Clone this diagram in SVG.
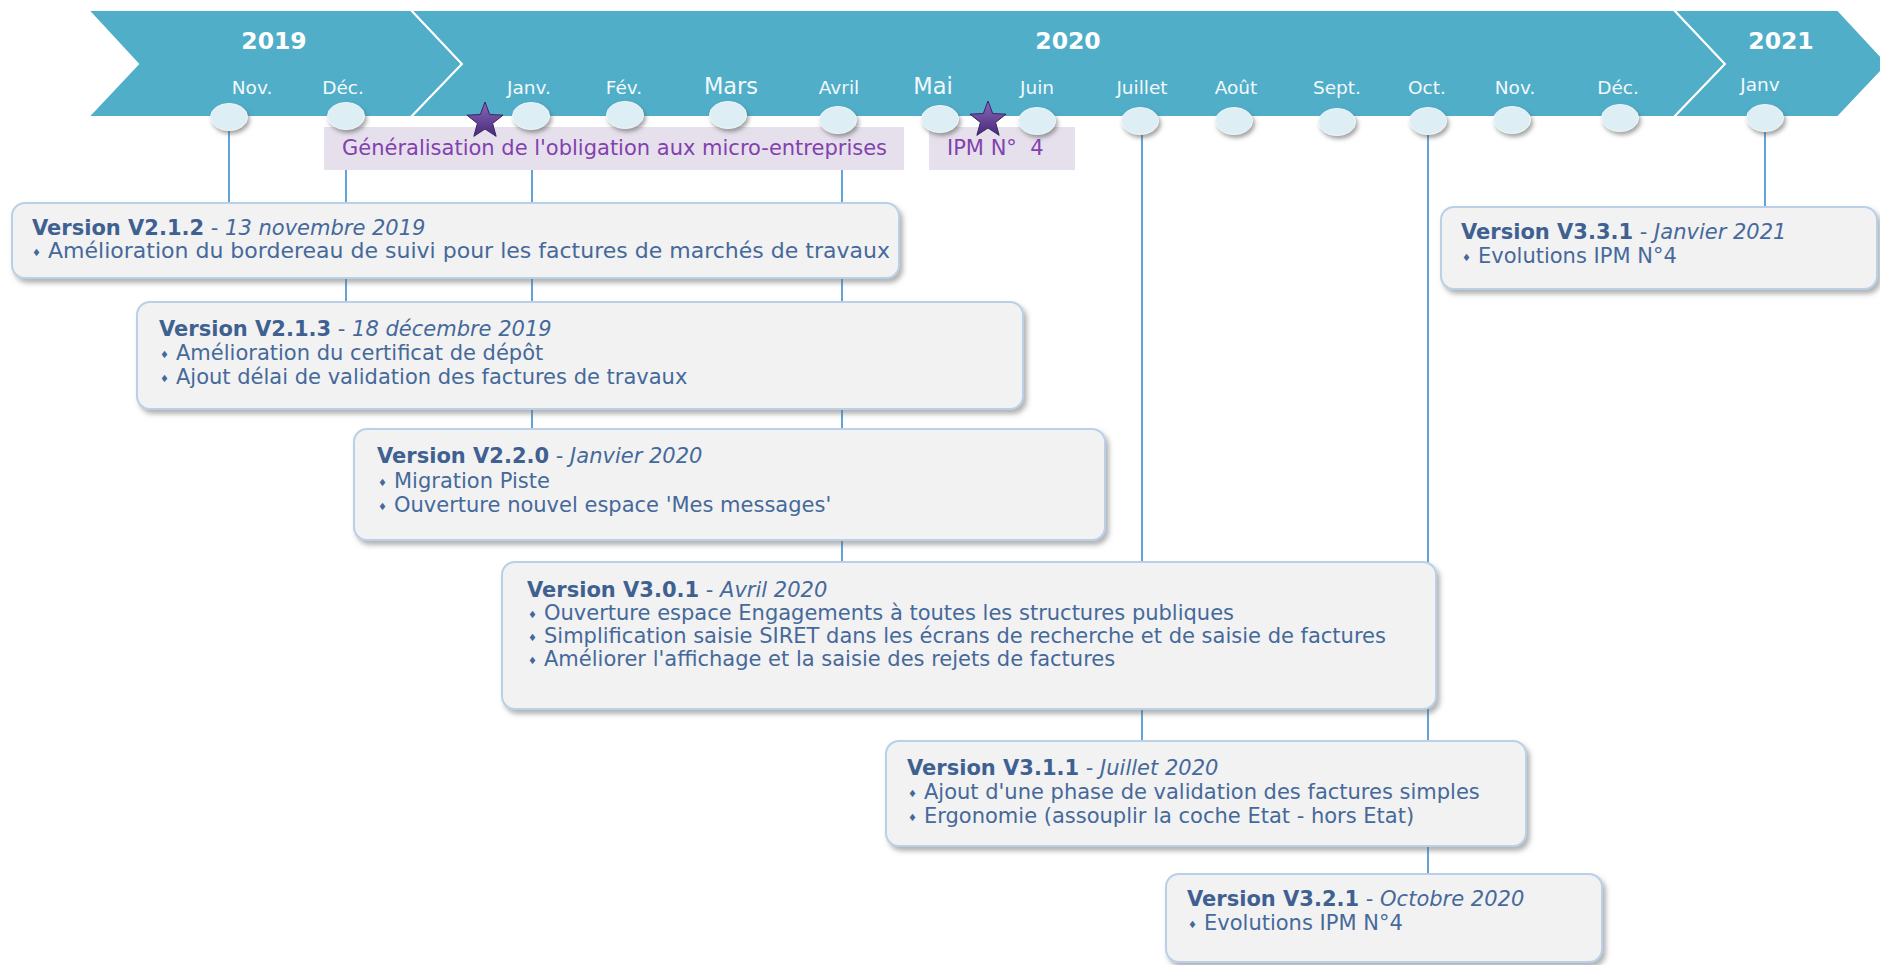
<svg xmlns="http://www.w3.org/2000/svg" xmlns:xlink="http://www.w3.org/1999/xlink" width="1880" height="965" viewBox="0 0 1880 965">
<style>
.seg{fill:#50AEC8;stroke:#FFFFFF;stroke-width:2;stroke-linejoin:miter}
.year{font-family:"DejaVu Sans",sans-serif;font-weight:bold;font-size:23.5px;fill:#FFFFFF;text-anchor:middle}
.mon{font-family:"DejaVu Sans",sans-serif;font-size:18.5px;fill:#F2F9FC;text-anchor:middle}
.monb{font-family:"DejaVu Sans",sans-serif;font-size:22.5px;fill:#F2F9FC;text-anchor:middle}
.dot{fill:#DDEEF4;stroke:#EEF6F9;stroke-width:1}
.conn{stroke:#3A8CCF;stroke-width:1.6;fill:none}
.plab{fill:#E6E0EC}
.ptxt{font-family:"DejaVu Sans",sans-serif;font-size:21px;fill:#8242AE}
.box{fill:#F2F2F2;stroke:#B9D0E8;stroke-width:2}
.t{font-family:"DejaVu Sans",sans-serif;font-size:21px;fill:#45699A}
.tb{font-weight:bold;fill:#3E6191}
.ti{font-style:italic}
.bul{font-family:"DejaVu Sans",sans-serif;font-size:10px;fill:#45699A}
.star{stroke:#3A2562;stroke-width:1}
</style>
<defs>
<filter id="sh" x="-20%" y="-20%" width="140%" height="160%">
<feDropShadow dx="2" dy="3" stdDeviation="2" flood-color="#555555" flood-opacity="0.55"/>
</filter>
<filter id="bsh" x="-5%" y="-10%" width="110%" height="130%">
<feDropShadow dx="3" dy="4" stdDeviation="2.5" flood-color="#666666" flood-opacity="0.5"/>
</filter>
<linearGradient id="sg" x1="0" y1="0" x2="0" y2="1">
<stop offset="0" stop-color="#8A68BC"/>
<stop offset="1" stop-color="#472A78"/>
</linearGradient>
<polygon id="starshape" points="0,-19 4.7,-6.47 18.07,-5.87 7.61,2.47 11.17,15.37 0,8 -11.17,15.37 -7.61,2.47 -18.07,-5.87 -4.7,-6.47"/>
</defs>

<g id="banner">
<polygon class="seg" points="88,10 411,10 462,64 411,117 88,117 138,64"/>
<polygon class="seg" points="411,10 1674,10 1725,64 1674,117 411,117 462,64"/>
<polygon class="seg" points="1674,10 1838,10 1888,64 1838,117 1674,117 1725,64"/>
<text class="year" x="274" y="49">2019</text>
<text class="year" x="1068" y="49">2020</text>
<text class="year" x="1781" y="49">2021</text>
<text class="mon" x="252" y="94">Nov.</text>
<text class="mon" x="343" y="94">Déc.</text>
<text class="mon" x="529" y="94">Janv.</text>
<text class="mon" x="624" y="94">Fév.</text>
<text class="monb" x="731" y="94">Mars</text>
<text class="mon" x="839" y="94">Avril</text>
<text class="monb" x="933" y="94">Mai</text>
<text class="mon" x="1037" y="94">Juin</text>
<text class="mon" x="1142" y="94">Juillet</text>
<text class="mon" x="1236" y="94">Août</text>
<text class="mon" x="1337" y="94">Sept.</text>
<text class="mon" x="1427" y="94">Oct.</text>
<text class="mon" x="1515" y="94">Nov.</text>
<text class="mon" x="1618" y="94">Déc.</text>
<text class="mon" x="1760" y="91">Janv</text>
</g>

<g id="connectors">
<line class="conn" x1="229" y1="128" x2="229" y2="203"/>
<line class="conn" x1="346" y1="128" x2="346" y2="302"/>
<line class="conn" x1="532" y1="128" x2="532" y2="429"/>
<line class="conn" x1="842" y1="132" x2="842" y2="562"/>
<line class="conn" x1="1142" y1="133" x2="1142" y2="741"/>
<line class="conn" x1="1428" y1="133" x2="1428" y2="874"/>
<line class="conn" x1="1765" y1="130" x2="1765" y2="207"/>
</g>

<g id="label-generalisation">
<rect class="plab" x="324" y="127" width="580" height="43"/>
<text class="ptxt" x="342" y="155">Généralisation de l'obligation aux micro-entreprises</text>
</g>
<g id="label-ipm">
<rect class="plab" x="929" y="127" width="146" height="43"/>
<text class="ptxt" x="947" y="155">IPM N°&#160; 4</text>
</g>

<g id="months">
<ellipse class="dot" filter="url(#sh)" cx="229" cy="117" rx="18.5" ry="13.5"/>
<ellipse class="dot" filter="url(#sh)" cx="346" cy="116" rx="18.5" ry="13.5"/>
<ellipse class="dot" filter="url(#sh)" cx="531" cy="116" rx="18.5" ry="13.5"/>
<ellipse class="dot" filter="url(#sh)" cx="625" cy="115" rx="18.5" ry="13.5"/>
<ellipse class="dot" filter="url(#sh)" cx="728" cy="115" rx="18.5" ry="13.5"/>
<ellipse class="dot" filter="url(#sh)" cx="838" cy="120" rx="18.5" ry="13.5"/>
<ellipse class="dot" filter="url(#sh)" cx="940" cy="119" rx="18.5" ry="13.5"/>
<ellipse class="dot" filter="url(#sh)" cx="1037" cy="121" rx="18.5" ry="13.5"/>
<ellipse class="dot" filter="url(#sh)" cx="1140" cy="121" rx="18.5" ry="13.5"/>
<ellipse class="dot" filter="url(#sh)" cx="1234" cy="121" rx="18.5" ry="13.5"/>
<ellipse class="dot" filter="url(#sh)" cx="1337" cy="122" rx="18.5" ry="13.5"/>
<ellipse class="dot" filter="url(#sh)" cx="1428" cy="121" rx="18.5" ry="13.5"/>
<ellipse class="dot" filter="url(#sh)" cx="1512" cy="120" rx="18.5" ry="13.5"/>
<ellipse class="dot" filter="url(#sh)" cx="1620" cy="118" rx="18.5" ry="13.5"/>
<ellipse class="dot" filter="url(#sh)" cx="1765" cy="118" rx="18.5" ry="13.5"/>
</g>

<g id="star1"><use xlink:href="#starshape" class="star" style="fill:url(#sg)" transform="translate(485,121)"/></g>
<g id="star2"><use xlink:href="#starshape" class="star" style="fill:url(#sg)" transform="translate(988,120)"/></g>

<g id="v212">
<rect class="box" filter="url(#bsh)" x="12" y="203" width="887" height="75" rx="13"/>
<text class="t" x="32" y="235"><tspan class="tb">Version V2.1.2</tspan> - <tspan class="ti">13 novembre 2019</tspan></text>
<text class="bul" x="32" y="256">♦</text>
<text class="t" x="48" y="258" textLength="842" lengthAdjust="spacingAndGlyphs" style="font-size:21.5px">Amélioration du bordereau de suivi pour les factures de marchés de travaux</text>
</g>

<g id="v213">
<rect class="box" filter="url(#bsh)" x="137" y="302" width="886" height="107" rx="13"/>
<text class="t" x="159" y="336"><tspan class="tb">Version V2.1.3</tspan> - <tspan class="ti">18 décembre 2019</tspan></text>
<text class="bul" x="160" y="358">♦</text>
<text class="t" x="176" y="360">Amélioration du certificat de dépôt</text>
<text class="bul" x="160" y="382">♦</text>
<text class="t" x="176" y="384">Ajout délai de validation des factures de travaux</text>
</g>

<g id="v220">
<rect class="box" filter="url(#bsh)" x="354" y="429" width="751" height="111" rx="13"/>
<text class="t" x="377" y="463"><tspan class="tb">Version V2.2.0</tspan> - <tspan class="ti">Janvier 2020</tspan></text>
<text class="bul" x="378" y="486">♦</text>
<text class="t" x="394" y="488">Migration Piste</text>
<text class="bul" x="378" y="510">♦</text>
<text class="t" x="394" y="512">Ouverture nouvel espace 'Mes messages'</text>
</g>

<g id="v301">
<rect class="box" filter="url(#bsh)" x="502" y="562" width="934" height="147" rx="13"/>
<text class="t" x="527" y="597"><tspan class="tb">Version V3.0.1</tspan> - <tspan class="ti">Avril 2020</tspan></text>
<text class="bul" x="528" y="618">♦</text>
<text class="t" x="544" y="620">Ouverture espace Engagements à toutes les structures publiques</text>
<text class="bul" x="528" y="641">♦</text>
<text class="t" x="544" y="643">Simplification saisie SIRET dans les écrans de recherche et de saisie de factures</text>
<text class="bul" x="528" y="664">♦</text>
<text class="t" x="544" y="666">Améliorer l'affichage et la saisie des rejets de factures</text>
</g>

<g id="v311">
<rect class="box" filter="url(#bsh)" x="886" y="741" width="640" height="105" rx="13"/>
<text class="t" x="907" y="775"><tspan class="tb">Version V3.1.1</tspan> - <tspan class="ti">Juillet 2020</tspan></text>
<text class="bul" x="908" y="797">♦</text>
<text class="t" x="924" y="799">Ajout d'une phase de validation des factures simples</text>
<text class="bul" x="908" y="821">♦</text>
<text class="t" x="924" y="823">Ergonomie (assouplir la coche Etat - hors Etat)</text>
</g>

<g id="v321">
<rect class="box" filter="url(#bsh)" x="1166" y="874" width="436" height="88" rx="13"/>
<text class="t" x="1187" y="906"><tspan class="tb">Version V3.2.1</tspan> - <tspan class="ti">Octobre 2020</tspan></text>
<text class="bul" x="1188" y="928">♦</text>
<text class="t" x="1204" y="930">Evolutions IPM N°4</text>
</g>

<g id="v331">
<rect class="box" filter="url(#bsh)" x="1441" y="207" width="436" height="82" rx="13"/>
<text class="t" x="1461" y="239"><tspan class="tb">Version V3.3.1</tspan> - <tspan class="ti">Janvier 2021</tspan></text>
<text class="bul" x="1462" y="261">♦</text>
<text class="t" x="1478" y="263">Evolutions IPM N°4</text>
</g>
</svg>
